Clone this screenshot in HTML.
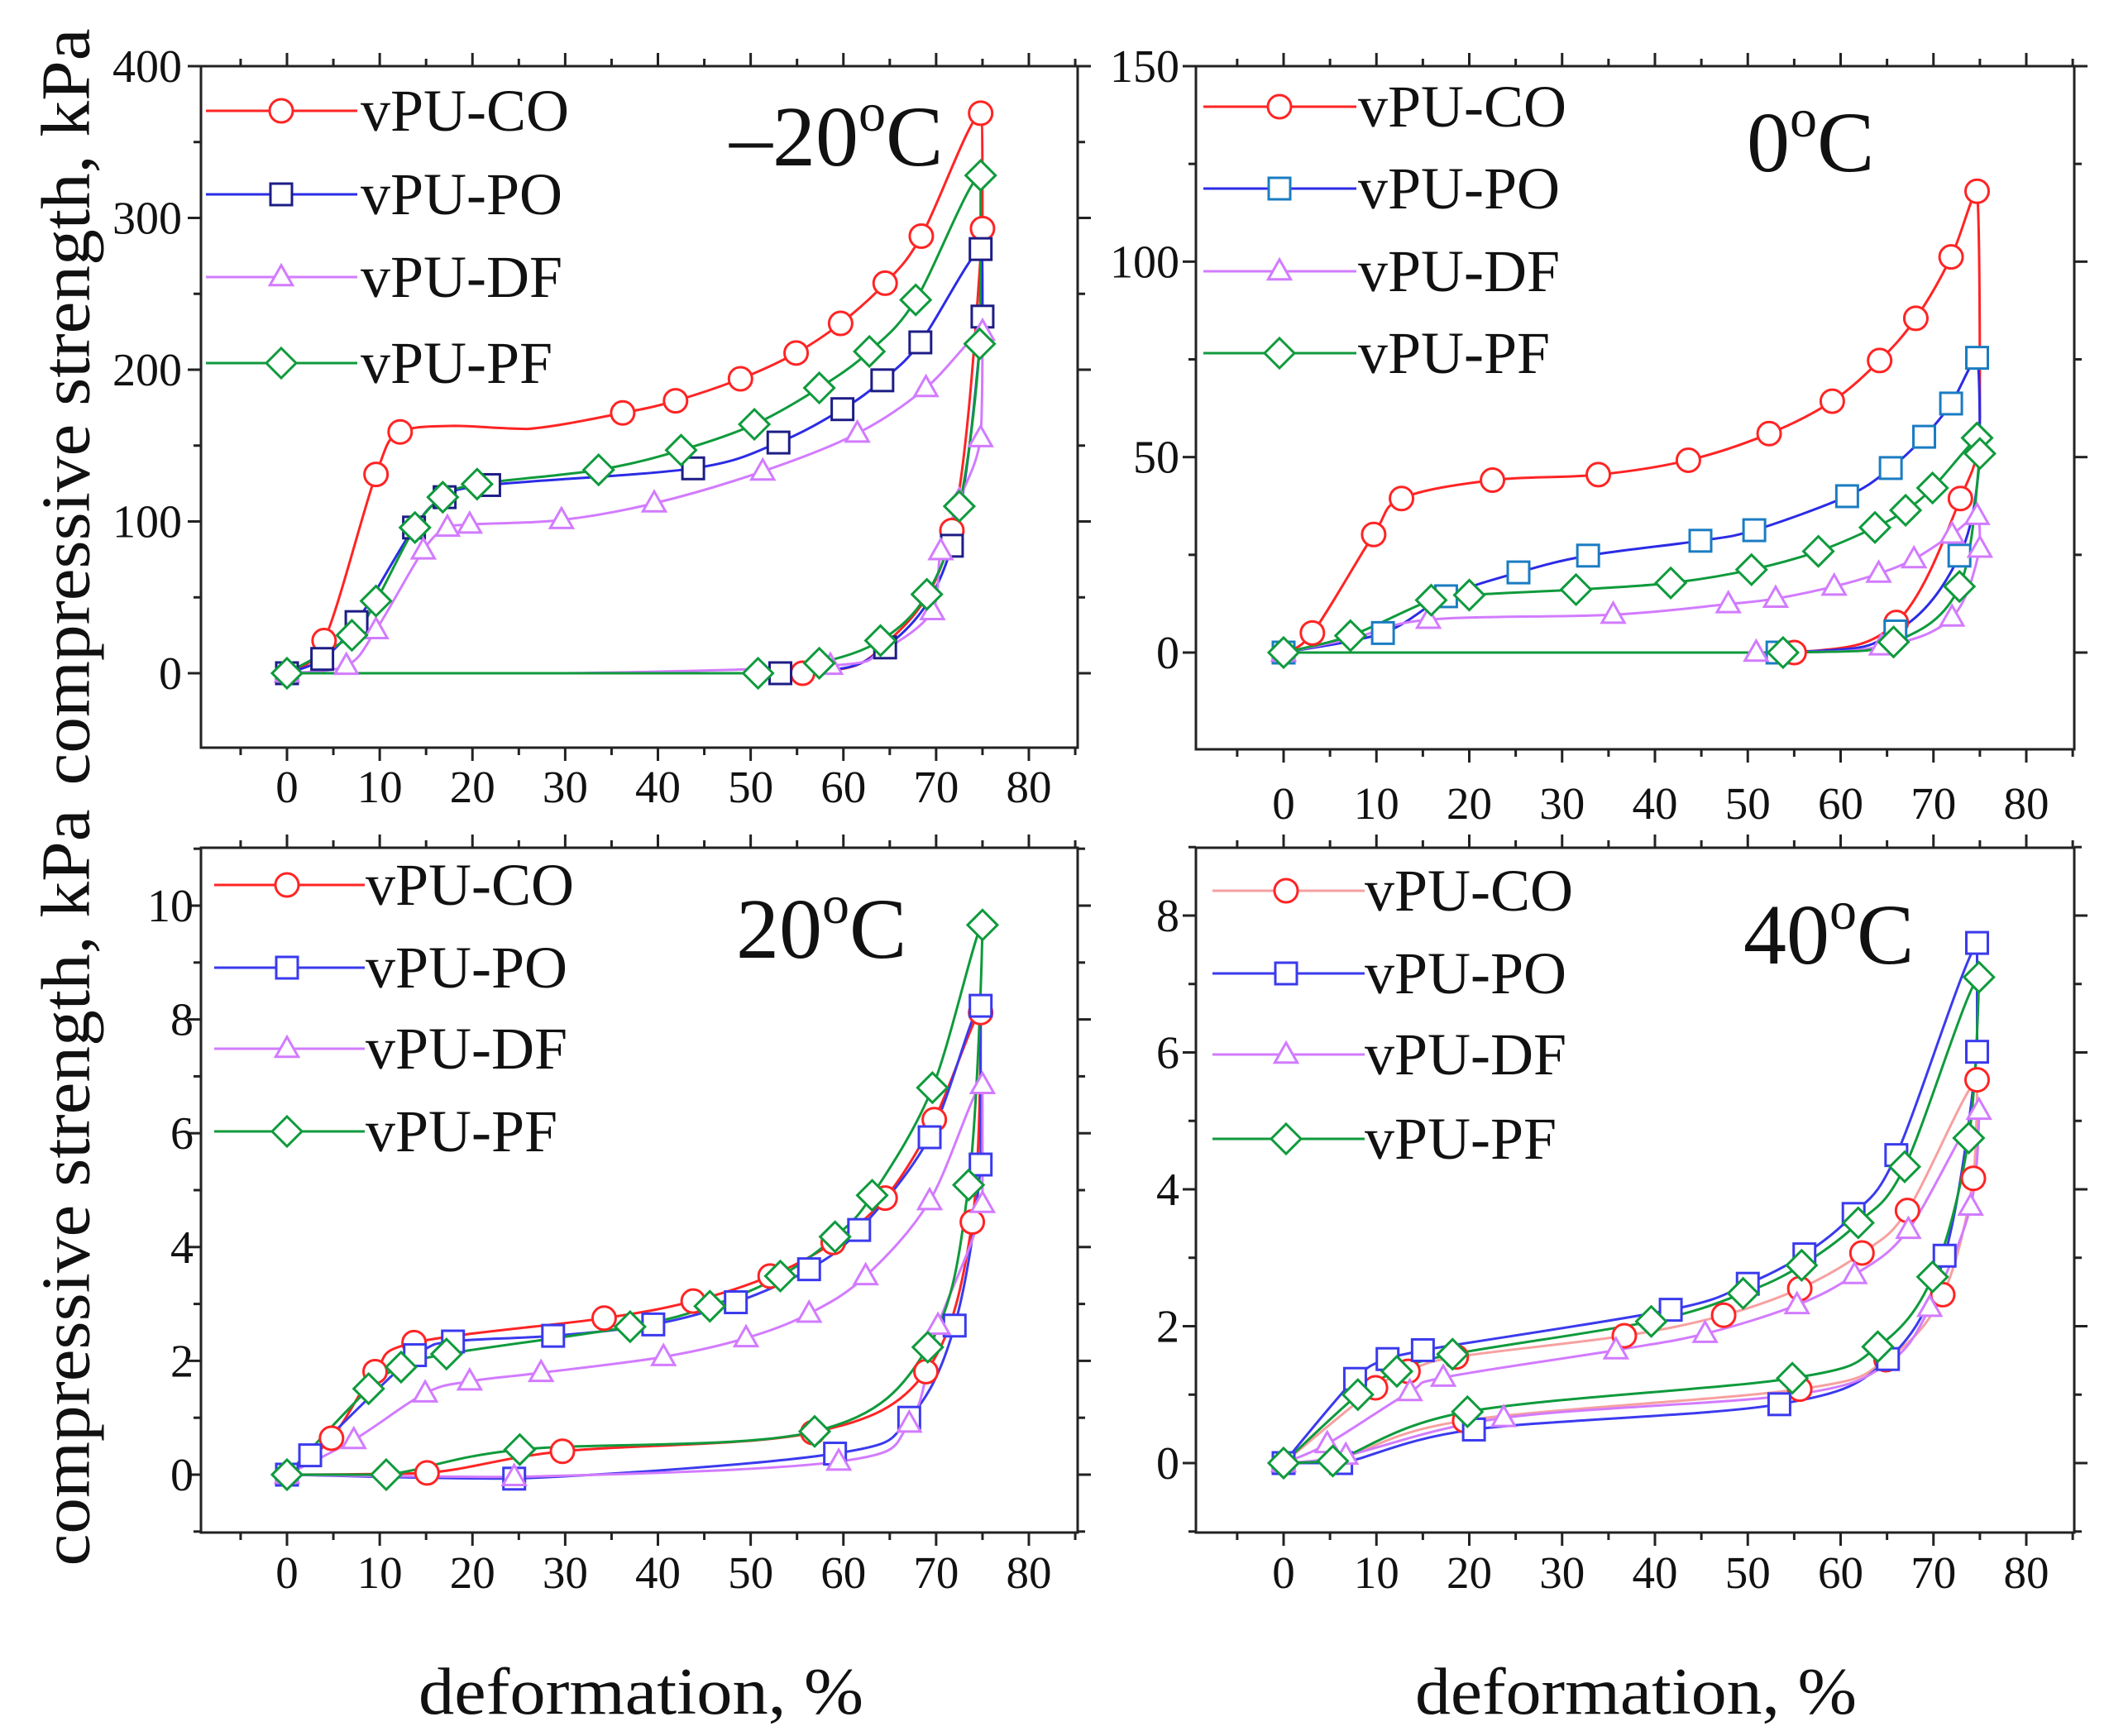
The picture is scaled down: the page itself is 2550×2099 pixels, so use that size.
<!DOCTYPE html>
<html><head><meta charset="utf-8">
<style>
html,body{margin:0;padding:0;background:#fff;}
svg{display:block;}
text{font-family:"Liberation Serif","DejaVu Serif",serif;fill:#111;}
</style></head>
<body>
<svg id="chart" width="2550" height="2099" viewBox="0 0 2550 2099" xmlns="http://www.w3.org/2000/svg">
<rect x="0" y="0" width="2550" height="2099" fill="#fff"/>
<text transform="translate(80,492) rotate(-90)" text-anchor="middle" dominant-baseline="central" font-size="84" textLength="915" lengthAdjust="spacingAndGlyphs">compressive strength, kPa</text>
<text transform="translate(80,1436) rotate(-90)" text-anchor="middle" dominant-baseline="central" font-size="84" textLength="915" lengthAdjust="spacingAndGlyphs">compressive strength, kPa</text>
<text x="775" y="2072" text-anchor="middle" font-size="80" textLength="538" lengthAdjust="spacingAndGlyphs">deformation, %</text>
<text x="1978" y="2072" text-anchor="middle" font-size="80" textLength="534" lengthAdjust="spacingAndGlyphs">deformation, %</text>
</svg>
<script>
// ---------- shared ----------
const xTicks = [0,10,20,30,40,50,60,70,80];
const seriesNames = ["vPU-CO","vPU-PO","vPU-DF","vPU-PF"];

// ---------- panel 1 (-20 C) ----------
const p1_yTicks = [0,100,200,300,400];
const p1_CO_x = [0,4,9.6,12.2,18,26,36.2,41.9,48.9,54.9,59.7,64.5,68.4,74.8,75,71.7,64.5,55.6,30,0];
const p1_CO_y = [0,21.5,131,159,163,161,171.5,179.5,194,211,230.5,257,288,369,293,94,19,0,0,0];
const p1_CO_m = [1,1,1,1,0,0,1,1,1,1,1,1,1,1,1,1,0,1,0,0];
const p1_PO_x = [0,3.8,7.5,13.7,17,21.8,43.8,53,59.9,64.2,68.3,74.8,75,71.7,64.5,53.2,15,0];
const p1_PO_y = [0,9.4,33.7,96,116,124,135,152,174,193,218,279.5,235,84,17,0,0,0];
const p1_PO_m = [1,1,1,1,1,1,1,1,1,1,1,1,1,1,1,1,0,0];
const p1_DF_x = [0,6.4,9.6,14.7,17.3,19.7,29.6,39.6,51.3,61.5,68.9,75,74.8,72.5,70.5,69.6,64.1,58.6,30,0];
const p1_DF_y = [0,5,28.5,81,96,98,101,112,133,158,188,225,155,114,80.5,41,14.6,5,0,0];
const p1_DF_m = [1,1,1,1,1,1,1,1,1,1,1,1,1,1,1,1,0,1,0,0];
const p1_PF_x = [0,7,9.6,13.8,16.8,20.5,33.6,42.5,50.4,57.4,62.8,67.8,74.8,74.7,72.5,69,64,57.4,50.8,0];
const p1_PF_y = [0,25,47.6,96,116,124.6,134,147,164,188,212,246,328,217,110,52,21.5,6.6,0,0];
const p1_PF_m = [1,1,1,1,1,1,1,1,1,1,1,1,1,1,1,1,1,1,1,0];

// ---------- panel 2 (0 C) ----------
const p2_yTicks = [0,50,100,150];
const p2_CO_x = [0,3.1,9.7,12.7,22.5,33.9,43.6,52.3,59.1,64.2,68.1,71.9,74.7,75,72.9,66,55,30,0];
const p2_CO_y = [0,5,30.2,39.4,44.1,45.5,49.2,56,64.3,74.7,85.5,101.2,118,60,39.4,7.7,0,0,0];
const p2_CO_m = [1,1,1,1,1,1,1,1,1,1,1,1,1,0,1,1,1,0,0];
const p2_PO_x = [0,10.7,17.5,25.3,32.8,44.9,50.7,60.7,65.4,69,71.9,74.7,75,72.8,65.9,53.2,0];
const p2_PO_y = [0,5,14.4,20.5,24.8,28.6,31.3,40,47.2,55.2,63.7,75.4,50,24.8,5.4,0,0];
const p2_PO_m = [1,1,1,1,1,1,1,1,1,1,1,1,0,1,1,1,0];
const p2_DF_x = [0,7.4,15.6,35.5,47.9,53,59.3,64.1,67.9,72,74.7,75,72,64.4,50.9,0];
const p2_DF_y = [0,3.6,8.4,9.7,12.4,13.8,16.9,20.2,23.9,30.2,35,26.6,9,1.6,0,0];
const p2_DF_m = [1,0,1,1,1,1,1,1,1,1,1,1,1,1,1,0];
const p2_PF_x = [0,7.2,15.9,20,31.5,41.7,50.4,57.6,63.7,67,69.9,74.7,75,72.8,65.7,53.8,0];
const p2_PF_y = [0,4.3,13.4,14.7,16.1,17.8,21.2,25.9,32,36.4,42.1,54.9,50.9,16.9,2.7,0,0];
const p2_PF_m = [1,1,1,1,1,1,1,1,1,1,1,1,1,1,1,1,0];

// ---------- panel 3 (20 C) ----------
const p3_yTicks = [0,2,4,6,8,10];
const p3_CO_x = [0,4.8,9.5,13.7,34.2,43.8,52.1,58.9,64.5,69.8,74.8,73.9,68.9,56.7,29.7,15.1,0];
const p3_CO_y = [0,0.64,1.81,2.32,2.75,3.05,3.49,4.08,4.86,6.24,8.12,4.44,1.81,0.74,0.41,0.03,0];
const p3_CO_m = [1,1,1,1,1,1,1,1,1,1,1,1,1,1,1,1,0];
const p3_PO_x = [0,2.5,13.8,17.9,28.7,39.5,48.4,56.3,61.7,69.3,74.8,74.8,72,67.1,59.1,24.5,0];
const p3_PO_y = [0,0.34,2.1,2.34,2.44,2.64,3.03,3.61,4.3,5.93,8.24,5.45,2.62,1.0,0.37,-0.07,0];
const p3_PO_m = [1,1,1,1,1,1,1,1,1,1,1,1,1,1,1,1,0];
const p3_DF_x = [0,7.2,14.9,19.7,27.4,40.6,49.5,56.3,62.4,69.3,75,75,70.2,67.1,59.5,24.5,0];
const p3_DF_y = [0,0.61,1.43,1.64,1.79,2.07,2.4,2.83,3.49,4.81,6.85,4.76,2.62,0.9,0.23,-0.04,0];
const p3_DF_m = [1,1,1,1,1,1,1,1,1,1,1,1,1,1,1,1,0];
const p3_PF_x = [0,8.8,12.3,17.2,37,45.6,53.2,59.1,63.1,69.6,75,73.5,69.1,56.9,25.1,10.7,0];
const p3_PF_y = [0,1.51,1.89,2.12,2.6,2.96,3.49,4.18,4.91,6.8,9.66,5.09,2.24,0.76,0.44,0,0];
const p3_PF_m = [1,1,1,1,1,1,1,1,1,1,1,1,1,1,1,1,0];

// ---------- panel 4 (40 C) ----------
const p4_yTicks = [0,2,4,6,8];
const p4_CO_x = [0,9.9,13.4,18.6,36.7,47.4,55.6,62.3,67.2,74.7,74.3,71,64.9,55.6,19.5,6.3,0];
const p4_CO_y = [0,1.1,1.34,1.55,1.86,2.16,2.55,3.07,3.69,5.6,4.16,2.46,1.51,1.08,0.62,0.08,0];
const p4_CO_m = [1,1,1,1,1,1,1,1,1,1,1,1,1,1,1,0,0];
const p4_PO_x = [0,7.7,11.2,15,41.7,50,56.1,61.4,66,74.7,74.7,71.2,65.1,53.4,20.5,6.2,0];
const p4_PO_y = [0,1.23,1.52,1.65,2.24,2.62,3.05,3.64,4.5,7.6,6.01,3.03,1.52,0.86,0.49,0,0];
const p4_PO_m = [1,1,1,1,1,1,1,1,1,1,1,1,1,1,1,1,0];
const p4_DF_x = [0,4.7,13.6,17.2,35.8,45.4,55.3,61.5,67.3,74.9,74,69.6,65,55,23.7,6.7,0];
const p4_DF_y = [0,0.28,1.04,1.25,1.65,1.89,2.31,2.75,3.41,5.15,3.75,2.27,1.45,1.0,0.66,0.11,0];
const p4_DF_m = [1,1,1,1,1,1,1,1,1,1,1,1,0,0,1,1,0];
const p4_PF_x = [0,8,12.2,18.2,39.6,49.5,55.8,61.9,66.9,74.9,73.8,69.9,64,54.8,19.8,5.3,0];
const p4_PF_y = [0,1.0,1.34,1.59,2.07,2.48,2.89,3.51,4.33,7.1,4.75,2.72,1.7,1.24,0.75,0.03,0];
const p4_PF_m = [1,1,1,1,1,1,1,1,1,1,1,1,1,1,1,1,0];

const NS = "http://www.w3.org/2000/svg";
const svg = document.getElementById("chart");
function mk(tag, attrs, parent){
  const e = document.createElementNS(NS, tag);
  for (const k in attrs) e.setAttribute(k, attrs[k]);
  (parent || svg).appendChild(e);
  return e;
}

function smoothPath(pts){
  if (pts.length < 2) return "";
  let d = "M" + pts[0][0].toFixed(1) + "," + pts[0][1].toFixed(1);
  for (let i = 0; i < pts.length - 1; i++){
    const p0 = pts[Math.max(0,i-1)], p1 = pts[i], p2 = pts[i+1], p3 = pts[Math.min(pts.length-1,i+2)];
    let c1x = p1[0] + (p2[0]-p0[0])/6, c1y = p1[1] + (p2[1]-p0[1])/6;
    let c2x = p2[0] - (p3[0]-p1[0])/6, c2y = p2[1] - (p3[1]-p1[1])/6;
    const xl = Math.min(p1[0],p2[0]), xh = Math.max(p1[0],p2[0]);
    const yl = Math.min(p1[1],p2[1]), yh = Math.max(p1[1],p2[1]);
    c1x = Math.min(xh, Math.max(xl, c1x)); c2x = Math.min(xh, Math.max(xl, c2x));
    c1y = Math.min(yh, Math.max(yl, c1y)); c2y = Math.min(yh, Math.max(yl, c2y));
    d += " C" + c1x.toFixed(1) + "," + c1y.toFixed(1) + " " + c2x.toFixed(1) + "," + c2y.toFixed(1) + " " + p2[0].toFixed(1) + "," + p2[1].toFixed(1);
  }
  return d;
}

function marker(g, kind, cx, cy, color, size){
  let e;
  if (kind === "circle") e = mk("circle", {cx:cx, cy:cy, r:size}, g);
  else if (kind === "square") e = mk("rect", {x:cx-size, y:cy-size, width:2*size, height:2*size}, g);
  else if (kind === "triangle") e = mk("polygon", {points:(cx)+","+(cy-size*1.1)+" "+(cx-size*1.05)+","+(cy+size*0.75)+" "+(cx+size*1.05)+","+(cy+size*0.75)}, g);
  else e = mk("polygon", {points:cx+","+(cy-size)+" "+(cx+size)+","+cy+" "+cx+","+(cy+size)+" "+(cx-size)+","+cy}, g);
  e.setAttribute("fill", "#fff");
  e.setAttribute("stroke", color);
  e.setAttribute("stroke-width", "3");
  
  
  return e;
}

const kinds = ["circle","square","triangle","diamond"];
const sizes = [14,13,13,18];

function drawPanel(cfg){
  const g = mk("g", {});
  
  
  const L = cfg.box[0], T = cfg.box[1], R = cfg.box[2], B = cfg.box[3];
  const sx = v => cfg.x0px + (v - 0) * (cfg.x80px - cfg.x0px) / 80;
  const sy = v => cfg.y0px + (v - cfg.yA) * (cfg.yBpx - cfg.y0px) / (cfg.yB - cfg.yA);
  const fr = mk("rect", {x:L, y:T, width:R-L, height:B-T, fill:"none", stroke:"#222", "stroke-width":3}, g);
  
  
  for (let v = -5; v <= 85; v += 5){
    const x = sx(v);
    if (x < L || x > R) continue;
    const len = (v % 10 === 0) ? 16 : 9;
    mk("line", {x1:x, y1:B, x2:x, y2:B+len, stroke:"#222", "stroke-width":3}, g);
    mk("line", {x1:x, y1:T, x2:x, y2:T-len, stroke:"#222", "stroke-width":3}, g);
  }
  xTicks.forEach(v => {
    const t = mk("text", {x:sx(v), y:cfg.xLabelY, "text-anchor":"middle", "font-size":55}, g);
    
    
    t.textContent = v;
  });
  const step = cfg.minor;
  for (let v = Math.ceil(cfg.yMin/step)*step; v <= cfg.yMax + 1e-9; v += step){
    const y = sy(v);
    if (y < T - 1 || y > B + 1) continue;
    const major = cfg.yTicks.some(t => Math.abs(t - v) < 1e-6);
    const len = major ? 16 : 9;
    mk("line", {x1:L, y1:y, x2:L-len, y2:y, stroke:"#222", "stroke-width":3}, g);
    mk("line", {x1:R, y1:y, x2:R+len, y2:y, stroke:"#222", "stroke-width":3}, g);
  }
  cfg.yTicks.forEach(v => {
    const t = mk("text", {x:cfg.yLabelX, y:sy(v)+19, "text-anchor":"end", "font-size":56}, g);
    
    
    t.textContent = v;
  });
  cfg.series.forEach((s, si) => {
    const pts = s.x.map((v,i) => [sx(v), sy(s.y[i])]);
    const p = mk("path", {d:smoothPath(pts), fill:"none", stroke:s.line, "stroke-width":3, "stroke-linejoin":"round"}, g);
    
    
  });
  cfg.series.forEach((s, si) => {
    s.x.forEach((v,i) => { if (s.m[i]) marker(g, kinds[si], sx(v), sy(s.y[i]), s.mark, sizes[si]); });
  });
  cfg.series.forEach((s, si) => {
    const y = cfg.leg.ys[si];
    const ln = mk("line", {x1:cfg.leg.x1, y1:y, x2:cfg.leg.x2, y2:y, stroke:s.line, "stroke-width":3}, g);
    
    
    marker(g, kinds[si], cfg.leg.mx, y, s.mark, sizes[si]);
    const t = mk("text", {x:cfg.leg.tx, y:y+24, "font-size":72}, g);
    
    
    t.textContent = seriesNames[si];
  });
  const tt = mk("text", {x:cfg.title.x, y:cfg.title.y, "font-size":104}, g);
  
  
  const a = mk("tspan", {}, tt); a.textContent = cfg.title.text;
  const o = mk("tspan", {dy:-42, "font-size":66}, tt); o.textContent = "o";
  const c = mk("tspan", {dy:42}, tt); c.textContent = "C";
}

const RED = "#ff2424", VIO = "#d27bff", GRN = "#0f9a3c";
drawPanel({
  name:"panel-minus20c", box:[243,80,1303,904], x0px:347, x80px:1244,
  yA:0, yB:400, y0px:814, yBpx:80, yMin:-50, yMax:400, minor:50, yTicks:p1_yTicks,
  yLabelX:220, xLabelY:970,
  series:[
    {x:p1_CO_x, y:p1_CO_y, m:p1_CO_m, line:RED, mark:RED},
    {x:p1_PO_x, y:p1_PO_y, m:p1_PO_m, line:"#2b2be6", mark:"#1d1d86"},
    {x:p1_DF_x, y:p1_DF_y, m:p1_DF_m, line:VIO, mark:VIO},
    {x:p1_PF_x, y:p1_PF_y, m:p1_PF_m, line:GRN, mark:GRN}],
  leg:{x1:249, x2:432, mx:340, tx:436, ys:[134,235,335,439]},
  title:{x:882, y:200, text:"\u201320"}
});
drawPanel({
  name:"panel-0c", box:[1446,80,2508,906], x0px:1552, x80px:2450,
  yA:0, yB:150, y0px:789, yBpx:80, yMin:-25, yMax:150, minor:25, yTicks:p2_yTicks,
  yLabelX:1426, xLabelY:990,
  series:[
    {x:p2_CO_x, y:p2_CO_y, m:p2_CO_m, line:RED, mark:RED},
    {x:p2_PO_x, y:p2_PO_y, m:p2_PO_m, line:"#2b2be6", mark:"#1a7cc2"},
    {x:p2_DF_x, y:p2_DF_y, m:p2_DF_m, line:VIO, mark:VIO},
    {x:p2_PF_x, y:p2_PF_y, m:p2_PF_m, line:GRN, mark:GRN}],
  leg:{x1:1455, x2:1640, mx:1547, tx:1642, ys:[129,228,328,427]},
  title:{x:2112, y:207, text:"0"}
});
drawPanel({
  name:"panel-20c", box:[243,1025,1303,1853], x0px:347, x80px:1244,
  yA:0, yB:10, y0px:1783, yBpx:1095, yMin:-1, yMax:11, minor:1, yTicks:p3_yTicks,
  yLabelX:234, xLabelY:1920,
  series:[
    {x:p3_CO_x, y:p3_CO_y, m:p3_CO_m, line:RED, mark:RED},
    {x:p3_PO_x, y:p3_PO_y, m:p3_PO_m, line:"#3a3aee", mark:"#3a3aee"},
    {x:p3_DF_x, y:p3_DF_y, m:p3_DF_m, line:VIO, mark:VIO},
    {x:p3_PF_x, y:p3_PF_y, m:p3_PF_m, line:GRN, mark:GRN}],
  leg:{x1:259, x2:441, mx:347, tx:442, ys:[1070,1170,1268,1368]},
  title:{x:890, y:1158, text:"20"}
});
drawPanel({
  name:"panel-40c", box:[1446,1025,2508,1853], x0px:1552, x80px:2450,
  yA:0, yB:8, y0px:1769, yBpx:1107, yMin:-1, yMax:9, minor:1, yTicks:p4_yTicks,
  yLabelX:1426, xLabelY:1920,
  series:[
    {x:p4_CO_x, y:p4_CO_y, m:p4_CO_m, line:"#f7a0a0", mark:RED},
    {x:p4_PO_x, y:p4_PO_y, m:p4_PO_m, line:"#3a3aee", mark:"#3a3aee"},
    {x:p4_DF_x, y:p4_DF_y, m:p4_DF_m, line:VIO, mark:VIO},
    {x:p4_PF_x, y:p4_PF_y, m:p4_PF_m, line:GRN, mark:GRN}],
  leg:{x1:1466, x2:1650, mx:1555, tx:1650, ys:[1077,1177,1275,1377]},
  title:{x:2108, y:1165, text:"40"}
});
</script>
</body></html>
